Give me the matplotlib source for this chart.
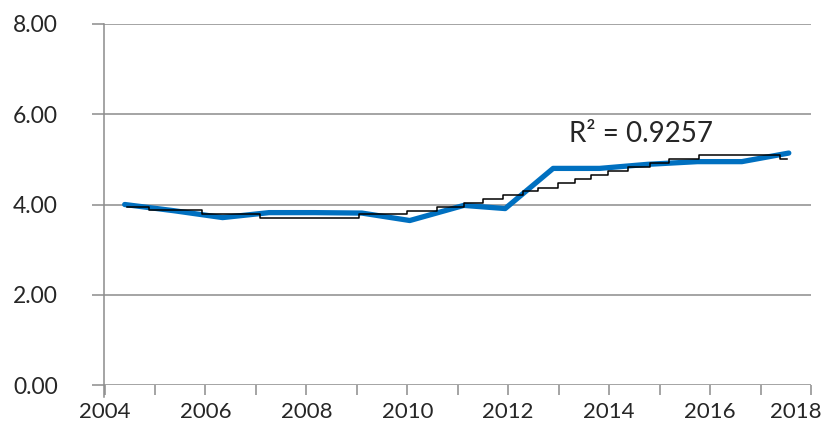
import matplotlib
matplotlib.use("Agg")
import matplotlib.pyplot as plt
from matplotlib.transforms import ScaledTranslation

# Blue series (x in fractional years, y values)
blue_x = [2004.40, 2005.39, 2006.34, 2007.26, 2008.17, 2009.10, 2010.05, 2011.12,
          2011.94, 2012.89, 2013.81, 2014.76, 2015.75, 2016.63, 2017.56]
blue_y = [4.00, 3.86, 3.71, 3.82, 3.82, 3.81, 3.645, 3.98,
          3.91, 4.80, 4.80, 4.89, 4.95, 4.95, 5.14]

# Trendline (stepped, as rendered)
trend_x = [2004.44, 2004.88, 2005.94, 2007.09, 2009.04, 2009.99, 2010.58, 2011.12,
           2011.50, 2011.90, 2012.29, 2012.59, 2012.98, 2013.32, 2013.64, 2013.97,
           2014.37, 2014.80, 2015.19, 2015.78, 2017.38, 2017.52]
trend_y = [3.95, 3.88, 3.79, 3.70, 3.78, 3.86, 3.94, 4.04,
           4.12, 4.21, 4.30, 4.37, 4.47, 4.56, 4.65, 4.74,
           4.82, 4.93, 5.01, 5.10, 5.01, 5.01]

y_ticks = [0, 2, 4, 6, 8]
x_major = [2004, 2006, 2008, 2010, 2012, 2014, 2016, 2018]
x_minor = [2005, 2007, 2009, 2011, 2013, 2015, 2017]
r2_text = "R² = 0.9257"

plt.rcParams['font.family'] = ['Lato', 'DejaVu Sans']

fig = plt.figure(figsize=(8.28, 4.29), dpi=100)
ax = fig.add_axes([104.5/828, 1-385/429, (811-104.5)/828, (385-24)/429])

grid_c = '#8c8c8c'
for yv in y_ticks:
    ax.axhline(yv, color=grid_c, lw=1.1, zorder=1)

ax.plot(trend_x, trend_y, drawstyle='steps-post', color='black', lw=1.1, zorder=3)
ax.plot(blue_x, blue_y, color='#0070C0', lw=3.8, solid_capstyle='round',
        solid_joinstyle='round', zorder=2)

ax.set_xlim(2004, 2018)
ax.set_ylim(0, 8)

for s in ['top', 'right', 'bottom']:
    ax.spines[s].set_visible(False)
ax.spines['left'].set_color(grid_c)
ax.spines['left'].set_linewidth(1.1)
ax.spines['left'].set_bounds(-0.26, 8)
ax.spines['left'].set_zorder(1)

ax.set_yticks(y_ticks)
ax.set_yticklabels([f"{v:.2f}" for v in y_ticks])
ax.set_xticks(x_major)
ax.set_xticklabels([str(v) for v in x_major])
ax.set_xticks(x_minor, minor=True)

ax.tick_params(axis='y', length=8.6, width=1.1, color=grid_c, pad=25,
               labelsize=16.5, labelcolor='#262626')
ax.tick_params(axis='x', which='both', length=7.5, width=1.1, color=grid_c, pad=5,
               labelsize=16, labelcolor='#262626')

ax.text(2014.64, 5.57, r2_text, fontsize=20, color='#262626', ha='center', va='center')

lbl = ax.get_xticklabels()[-1]
lbl.set_horizontalalignment('right')
lbl.set_transform(lbl.get_transform() + ScaledTranslation(11/100, 0, fig.dpi_scale_trans))

fig.savefig('out.png', dpi=100)
